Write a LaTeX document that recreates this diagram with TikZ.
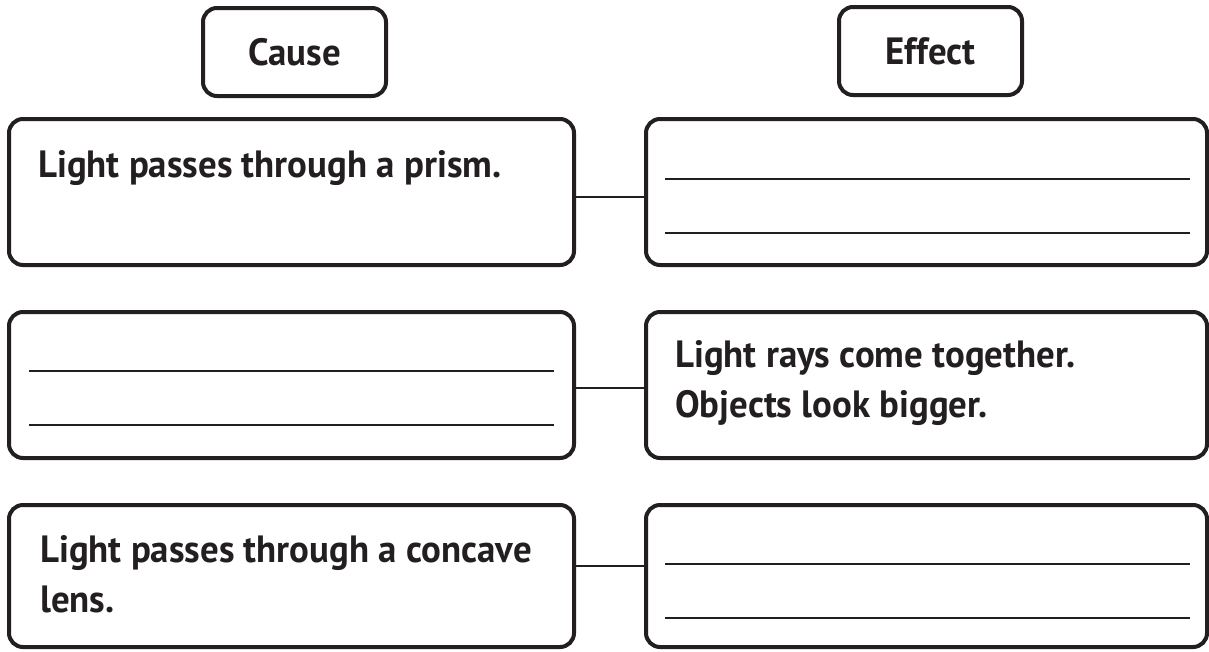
\documentclass[tikz,border=0pt]{standalone}
\usepackage{fontspec}
\setmainfont{PT Sans}[BoldFont={PT Sans Bold}, BoldFeatures={FakeStretch=0.97}]
\definecolor{ink}{RGB}{35,31,32}
\begin{document}
\begin{tikzpicture}[x=1pt,y=-1pt,
  every node/.style={font=\fontsize{38}{50}\selectfont\bfseries, text=ink},
  panel/.style={draw=ink, line width=4pt, rounded corners=14pt, rectangle,
    inner sep=0pt, fill=white},
  heading/.style={panel, minimum width=183pt, minimum height=88pt,
    text height=26pt, text depth=0pt},
  wide/.style={panel, minimum width=565pt},
  widr/.style={panel, minimum width=561pt},
  rule/.style={draw=ink, line width=2.5pt},
  link/.style={draw=ink, line width=2.2pt},
  label/.style={anchor=base west, inner sep=0pt, align=left}]
\useasboundingbox (0,0) rectangle (1209,651);

% column headings
\node[heading] (cause)  at (294.5,52) {Cause};
\node[heading] (effect) at (930.5,51) {Effect};

% row 1
\node[wide, minimum height=146pt] (c1) at (291.5,192) {};
\node[widr, minimum height=146pt] (e1) at (926.5,192) {};
% row 2
\node[wide, minimum height=146pt] (c2) at (291.5,385) {};
\node[widr, minimum height=146pt] (e2) at (926.5,385) {};
% row 3
\node[wide, minimum height=142pt] (c3) at (291.5,576) {};
\node[widr, minimum height=142pt] (e3) at (926.5,576) {};

% texts (the base of a two-line label is its last line)
\node[label] (t1) at (38,177) {Light passes through a prism.};
\node[label] (t2) at (675,417) {Light rays come together.\\Objects look bigger.};
\node[label] (t3) at (40,612) {Light passes through a concave\\lens.};

% writing lines
\draw[rule] (665,179) -- (1190,179);
\draw[rule] (665,233) -- (1190,233);
\draw[rule] (29,371) -- (554,371);
\draw[rule] (29,425) -- (554,425);
\draw[rule] (665,564) -- (1190,564);
\draw[rule] (665,618) -- (1190,618);

% connectors between cause and effect panels
\coordinate (k1) at (0,197);
\coordinate (k2) at (0,388);
\coordinate (k3) at (0,566);
\draw[link] (c1.east |- k1) -- (e1.west |- k1);
\draw[link] (c2.east |- k2) -- (e2.west |- k2);
\draw[link] (c3.east |- k3) -- (e3.west |- k3);
\end{tikzpicture}
\end{document}
